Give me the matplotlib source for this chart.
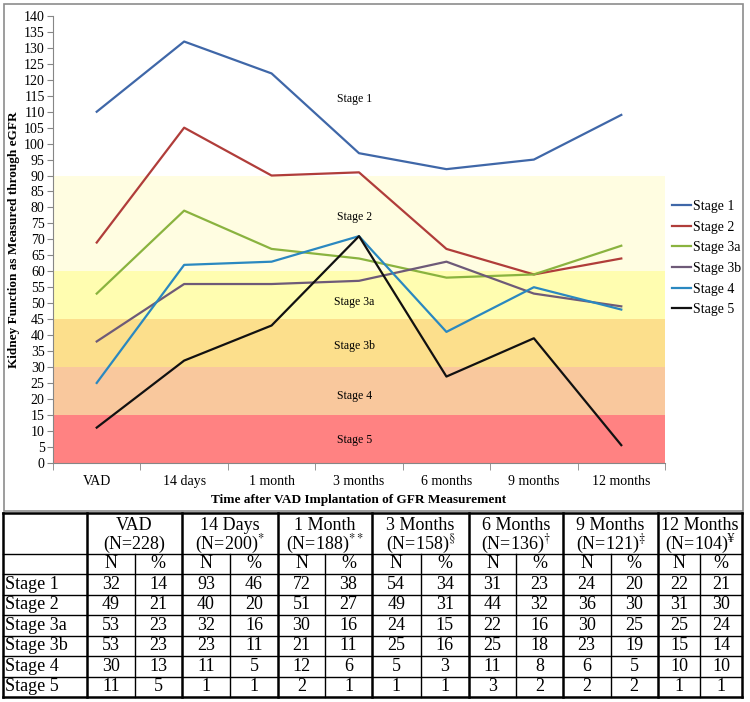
import matplotlib
matplotlib.use('Agg')
import matplotlib.pyplot as plt
from matplotlib.patches import Rectangle
from matplotlib.lines import Line2D

plt.rcParams['font.family'] = ['Liberation Serif', 'DejaVu Serif']
plt.rcParams['mathtext.fontset'] = 'stix'

# chart data
times = ['VAD', '14 days', '1 month', '3 months', '6 months', '9 months', '12 months']
stages = ['Stage 1', 'Stage 2', 'Stage 3a', 'Stage 3b', 'Stage 4', 'Stage 5']
egfr = {
    'Stage 1': [110, 132, 122, 97, 92, 95, 109],
    'Stage 2': [69, 105, 90, 91, 67, 59, 64],
    'Stage 3a': [53, 79, 67, 64, 58, 59, 68],
    'Stage 3b': [38, 56, 56, 57, 63, 53, 49],
    'Stage 4': [25, 62, 63, 71, 41, 55, 48],
    'Stage 5': [11, 32, 43, 71, 27, 39, 5.5],
}
colors = ['#3F67A8', '#B03D3A', '#8AB33F', '#6E5A78', '#2A88C0', '#111111']

# kidney stage bands (lower, upper)
band_lims = [(90, 140), (60, 90), (45, 60), (30, 45), (15, 30), (0, 15)]
band_cols = ['#FFFFFF', '#FFFDE1', '#FFFDB0', '#FCDF8C', '#F9C89D', '#FF8282']
band_label_y = [114, 77, 50.5, 36.5, 21, 7]

# table data
tbl_heads = ['VAD', '14 Days', '1 Month', '3 Months', '6 Months', '9 Months', '12 Months']
tbl_ns = ['(N=228)', '(N=200)$^{*}$', '(N=188)$^{\\mathrm{**}}$', '(N=158)$^{§}$',
          '(N=136)$^{†}$', '(N=121)$^{‡}$', '(N=104)$^{¥}$']
tbl_n = [
    [32, 93, 72, 54, 31, 24, 22],
    [49, 40, 51, 49, 44, 36, 31],
    [53, 32, 30, 24, 22, 30, 25],
    [53, 23, 21, 25, 25, 23, 15],
    [30, 11, 12, 5, 11, 6, 10],
    [11, 1, 2, 1, 3, 2, 1],
]
tbl_pct = [
    [14, 46, 38, 34, 23, 20, 21],
    [21, 20, 27, 31, 32, 30, 30],
    [23, 16, 16, 15, 16, 25, 24],
    [23, 11, 11, 16, 18, 19, 14],
    [13, 5, 6, 3, 8, 5, 10],
    [5, 1, 1, 1, 2, 2, 1],
]

W, H = 750, 702
fig = plt.figure(figsize=(W / 100, H / 100), dpi=100)
fig.patch.set_facecolor('white')

# overlay axes in pixel coords for frame + table
ov = fig.add_axes([0, 0, 1, 1], zorder=0)
ov.set_xlim(0, W)
ov.set_ylim(H, 0)
ov.axis('off')
ov.add_patch(Rectangle((4, 4), 739, 507, fill=False, ec='#8C8C8C', lw=1.2))

ax = fig.add_axes([53 / W, 1 - 462.7 / H, 612 / W, 446.7 / H], zorder=1)
ax.patch.set_alpha(0)
x = list(range(len(times)))
for (lo, hi), c in zip(band_lims, band_cols):
    ax.axhspan(lo, hi, color=c, lw=0, zorder=0)
for s, yl in zip(stages, band_label_y):
    ax.text(2.95, yl, s, ha='center', va='center', fontsize=8.5, zorder=1)
for s, c in zip(stages, colors):
    ax.plot(x, egfr[s], color=c, lw=1.6, label=s, zorder=3)

ax.set_xlim(-0.5, 6.5)
ax.set_ylim(0, 140)
ax.set_yticks(range(0, 141, 5))
ax.set_xticks(x)
ax.set_xticklabels(times)
ax.set_xticks([i - 0.5 for i in range(len(times) + 1)], minor=True)
ax.tick_params(axis='x', which='major', length=0, pad=9, labelsize=10)
ax.tick_params(axis='x', which='minor', length=5, color='#868686')
ax.tick_params(axis='y', length=4, color='#868686', labelsize=10, pad=2)
for sp in ['top', 'right']:
    ax.spines[sp].set_visible(False)
for sp in ['left', 'bottom']:
    ax.spines[sp].set_color('#868686')
ax.set_ylabel('Kidney Function as Measured through eGFR', fontweight='bold', fontsize=9.5, labelpad=3)
ax.set_xlabel('Time after VAD Implantation of GFR Measurement', fontweight='bold', fontsize=9.5, labelpad=4)

handles = [Line2D([], [], color=c, lw=1.6) for c in colors]
fig.legend(handles, stages, loc='upper left', bbox_to_anchor=(672 / W, 1 - 200 / H),
           frameon=False, fontsize=10, handlelength=1.4, handletextpad=0.1,
           labelspacing=0.55, borderpad=0, borderaxespad=0)

# table grid
col_edges = [3, 87, 182, 278, 372, 469, 563, 658, 742]
row_edges = [513, 554, 574] + [574 + 20.5 * (i + 1) for i in range(6)]
top, bot = row_edges[0], row_edges[-1]
ov.plot([col_edges[0], col_edges[-1]], [top, top], color='k', lw=1.8)
ov.plot([col_edges[0], col_edges[-1]], [bot, bot], color='k', lw=1.8)
for yy in row_edges[1:-1]:
    ov.plot([col_edges[0], col_edges[-1]], [yy, yy], color='k', lw=1.0)
for xx in col_edges:
    ov.plot([xx, xx], [top, bot], color='k', lw=1.8)
fs = 13
for j in range(len(tbl_heads)):
    xa, xb = col_edges[j + 1], col_edges[j + 2]
    xm = (xa + xb) / 2
    ov.plot([xm, xm], [row_edges[1], bot], color='k', lw=1.0)
    ov.text(xm, 525, tbl_heads[j], ha='center', va='center', fontsize=fs)
    ov.text(xm, 544, tbl_ns[j], ha='center', va='center', fontsize=fs)
    ov.text((xa + xm) / 2, 564, 'N', ha='center', va='center', fontsize=fs)
    ov.text((xm + xb) / 2, 564, '%', ha='center', va='center', fontsize=fs)
    for i in range(len(stages)):
        yc = (row_edges[i + 2] + row_edges[i + 3]) / 2
        ov.text((xa + xm) / 2, yc, str(tbl_n[i][j]), ha='center', va='center', fontsize=fs)
        ov.text((xm + xb) / 2, yc, str(tbl_pct[i][j]), ha='center', va='center', fontsize=fs)
for i, s in enumerate(stages):
    yc = (row_edges[i + 2] + row_edges[i + 3]) / 2
    ov.text(5, yc, s, ha='left', va='center', fontsize=fs)

fig.savefig('out.png', dpi=100)
